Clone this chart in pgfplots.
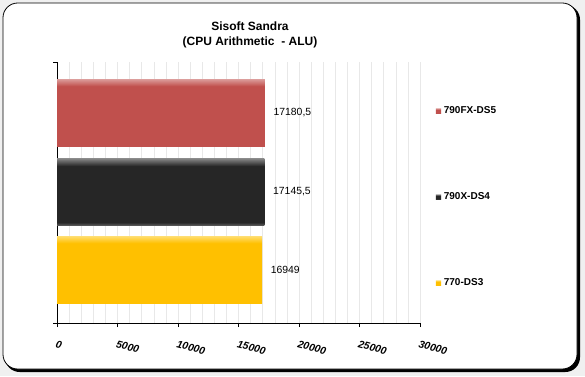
\documentclass[border=0pt]{standalone}
\usepackage{fontspec}
\setmainfont{Liberation Sans}
\usepackage{pgfplots}
\pgfplotsset{compat=1.18}
\definecolor{cred}{HTML}{C0504D}
\definecolor{credl}{HTML}{DA9896}
\definecolor{cblk}{HTML}{262626}
\definecolor{cblkl}{HTML}{8C8C8C}
\definecolor{cblkb}{HTML}{555555}
\definecolor{cyel}{HTML}{FFC000}
\definecolor{cyell}{HTML}{FFDC6A}
\definecolor{lred}{HTML}{D99694}
\definecolor{lblk}{HTML}{7F7F7F}
\definecolor{lyel}{HTML}{FFD966}
\pgfdeclareverticalshading{redbar}{100bp}{color(0bp)=(cred);color(25bp)=(cred);color(70bp)=(cred);color(75bp)=(credl);color(100bp)=(credl)}
\pgfdeclareverticalshading{blkbar}{100bp}{color(0bp)=(cblkb);color(25bp)=(cblkb);color(27bp)=(cblk);color(69bp)=(cblk);color(75bp)=(cblkl);color(100bp)=(cblkl)}
\pgfdeclareverticalshading{yelbar}{100bp}{color(0bp)=(cyel);color(25bp)=(cyel);color(70bp)=(cyel);color(75bp)=(cyell);color(100bp)=(cyell)}
\begin{document}
\begin{tikzpicture}
\begin{scope}[x=0.75pt,y=-0.75pt]
\fill[gray!12] (0,0) rectangle (585,376);
\fill[black, rounded corners=11pt] (5,5) rectangle (580,372);
\filldraw[fill=white, draw=black, line width=0.6pt, rounded corners=11pt] (3,3) rectangle (577,369);
\node[align=center, font=\bfseries\fontsize{9}{11.25}\selectfont] at (250,34.5) {Sisoft Sandra\\(CPU Arithmetic \ - ALU)};
\end{scope}
\begin{axis}[
  at={(42.75pt,-242.25pt)}, anchor=south west,
  scale only axis, width=272.25pt, height=195.75pt,
  xmin=0, xmax=30000, ymin=-0.675, ymax=2.65,
  xtick={0,5000,...,30000},
  xticklabels={0,5000,10000,15000,20000,25000,30000},
  minor x tick num=4,
  xticklabel style={font=\bfseries\itshape\fontsize{7.8}{9}\selectfont, rotate=-15, anchor=north west, xshift=-1pt, yshift=-6pt},
  ytick={-0.675,2.65}, yticklabels={},
  axis x line*=bottom, axis y line*=left,
  axis line style={black, line width=0.6pt},
  tick style={black, line width=0.6pt},
  tick align=outside, major tick length=3pt, minor tick length=0pt,
  xmajorgrids, xminorgrids,
  major grid style={gray!18, line width=0.4pt},
  minor grid style={gray!18, line width=0.4pt},
  xbar, bar width=50.25pt, bar shift=0pt,
  nodes near coords={\pgfmathprintnumber[fixed,use comma,1000 sep={},precision=1,assume math mode=true]{\pgfplotspointmeta}},
  nodes near coords style={anchor=west, xshift=3pt, font=\fontsize{7.8}{9}\selectfont, black},
  legend style={at={(1.043,0.84)}, anchor=north west, draw=none, fill=none,
    font=\bfseries\fontsize{7.5}{9}\selectfont, row sep=53.75pt, inner sep=0pt},
  legend cell align=left,
]
\addplot[draw=none, shading=redbar,
  legend image code/.code={\fill[lred] (0pt,-2pt) rectangle (4pt,2pt);}]
  coordinates {(17180.5,2)};
\addlegendentry{790FX-DS5}
\addplot[draw=none, shading=blkbar,
  legend image code/.code={\fill[lblk] (0pt,-2pt) rectangle (4pt,2pt);}]
  coordinates {(17145.5,1)};
\addlegendentry{790X-DS4}
\addplot[draw=none, shading=yelbar,
  legend image code/.code={\fill[lyel] (0pt,-2pt) rectangle (4pt,2pt);}]
  coordinates {(16949,0)};
\addlegendentry{770-DS3}
\end{axis}
\begin{scope}[x=0.75pt,y=-0.75pt]
\pgfresetboundingbox
\useasboundingbox (0,0) rectangle (585,376);
\end{scope}
\end{tikzpicture}
\end{document}
